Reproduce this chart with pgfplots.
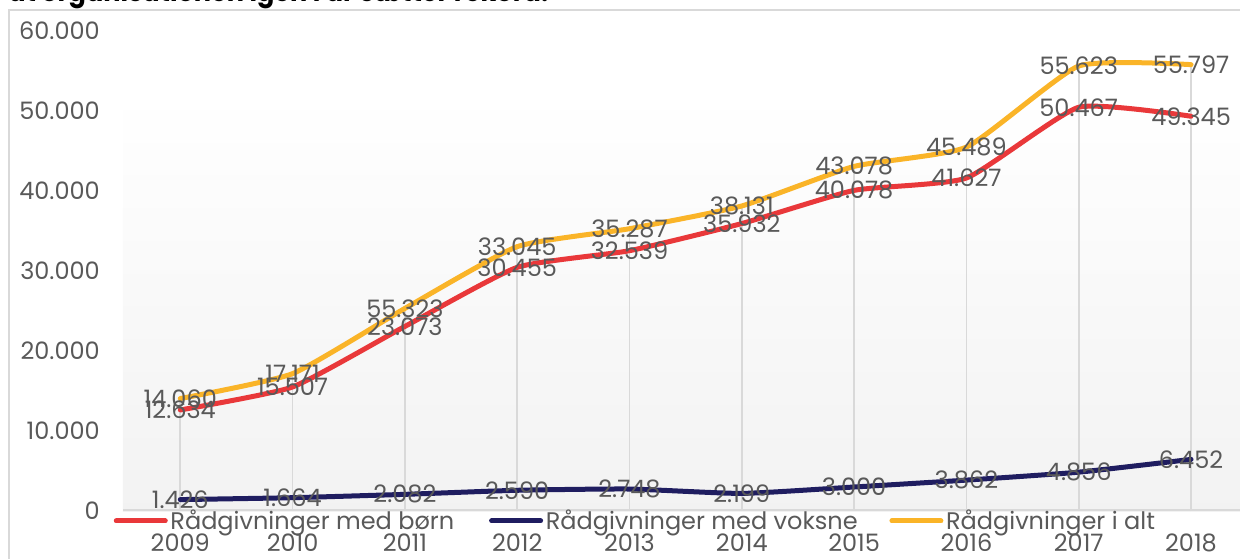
\documentclass[border=0pt]{standalone}
\usepackage{fontspec}
\setmainfont{Poppins}
\usepackage{pgfplots}
\pgfplotsset{compat=1.18}
\usepackage{pgfplotstable}
\definecolor{cRed}{RGB}{233,56,58}
\definecolor{cNavy}{RGB}{31,29,96}
\definecolor{cYel}{RGB}{250,180,40}
\definecolor{cTxt}{RGB}{89,89,89}
\definecolor{cGrid}{RGB}{217,217,217}

\pgfplotstableread{
x    born  voksne alt   lb     lv    la
2009 12634 1426   14060 12.634 1.426 14.060
2010 15507 1664   17171 15.507 1.664 17.171
2011 23073 2082   25323 23.073 2.082 55.323
2012 30455 2590   33045 30.455 2.590 33.045
2013 32539 2748   35287 32.539 2.748 35.287
2014 35932 2199   38131 35.932 2.199 38.131
2015 40078 3000   43078 40.078 3.000 43.078
2016 41627 3862   45489 41.627 3.862 45.489
2017 50467 4856   55623 50.467 4.856 55.623
2018 49345 6452   55797 49.345 6.452 55.797
}\data

\newcommand{\lblfont}{\fontsize{18}{20}\selectfont}

\begin{document}
\begin{tikzpicture}[x=1pt,y=1pt]
\useasboundingbox (0,0) rectangle (930,418.5);
\clip (0,0) rectangle (930,418.5);
\node[anchor=base west, inner sep=0pt, font=\fontsize{20}{24}\selectfont\bfseries] at (6,417)
  {\resizebox{405pt}{\height}{at organisationen igen i år sætter rekord.}};
\draw[cGrid, line width=1.2pt] (6.75,-2) -- (6.75,411) -- (932,411);
\begin{axis}[
  at={(92.25pt,35.25pt)}, anchor=south west,
  scale only axis, width=837.75pt, height=360pt,
  xmin=2008.49, xmax=2018.436, ymin=0, ymax=60000,
  scaled y ticks=false, scaled x ticks=false,
  clip=false,
  axis line style={draw=none},
  major tick length=0pt,
  xtick={2009,2010,2011,2012,2013,2014,2015,2016,2017,2018},
  xticklabels={2009,2010,2011,2012,2013,2014,2015,2016,2017,2018},
  ytick={0,10000,20000,30000,40000,50000,60000},
  yticklabels={0,10.000,20.000,30.000,40.000,50.000,60.000},
  ticklabel style={font=\lblfont, text=cTxt},
  yticklabel style={anchor=east, inner sep=0pt, xshift=-17.25pt},
  xticklabel style={anchor=north, inner sep=0pt, yshift=-17.25pt},
  legend image code/.code={\draw[#1, line cap=round] (0pt,0pt) -- (36.75pt,0pt);},
  legend columns=3,
  legend style={at={(-0.0085,-0.0208)}, anchor=west, draw=none, fill=none,
    inner sep=0pt, font=\lblfont, text=cTxt,
    /tikz/every even column/.style={column sep=0pt}},
]
\fill[top color=white, bottom color=black!5, draw=none]
  (axis cs:2008.49,0) rectangle (axis cs:2018.436,52250);
\draw[cGrid, line width=1.2pt] (axis cs:2008.49,125) -- (axis cs:2018.436,125);
\addplot[ycomb, cGrid, line width=1.2pt, forget plot] table[x=x,y=alt]{\data};

\addplot[cRed, line width=3.75pt, smooth, tension=0.3, line cap=round, line join=round]
  table[x=x,y=born]{\data};
\addlegendentry{\makebox[237pt][l]{Rådgivninger med børn}}
\addplot[cNavy, line width=3.75pt, smooth, tension=0.3, line cap=round, line join=round]
  table[x=x,y=voksne]{\data};
\addlegendentry{\makebox[255.75pt][l]{Rådgivninger med voksne}}
\addplot[cYel, line width=3.75pt, smooth, tension=0.3, line cap=round, line join=round]
  table[x=x,y=alt]{\data};
\addlegendentry{Rådgivninger i alt}

\addplot[draw=none, forget plot, nodes near coords, point meta=explicit symbolic,
  nodes near coords style={anchor=center, inner sep=0pt, font=\lblfont, text=cTxt}]
  table[x=x,y=born,meta=lb]{\data};
\addplot[draw=none, forget plot, nodes near coords, point meta=explicit symbolic,
  nodes near coords style={anchor=center, inner sep=0pt, font=\lblfont, text=cTxt}]
  table[x=x,y=voksne,meta=lv]{\data};
\addplot[draw=none, forget plot, nodes near coords, point meta=explicit symbolic,
  nodes near coords style={anchor=center, inner sep=0pt, font=\lblfont, text=cTxt}]
  table[x=x,y=alt,meta=la]{\data};
\end{axis}
\end{tikzpicture}
\end{document}
